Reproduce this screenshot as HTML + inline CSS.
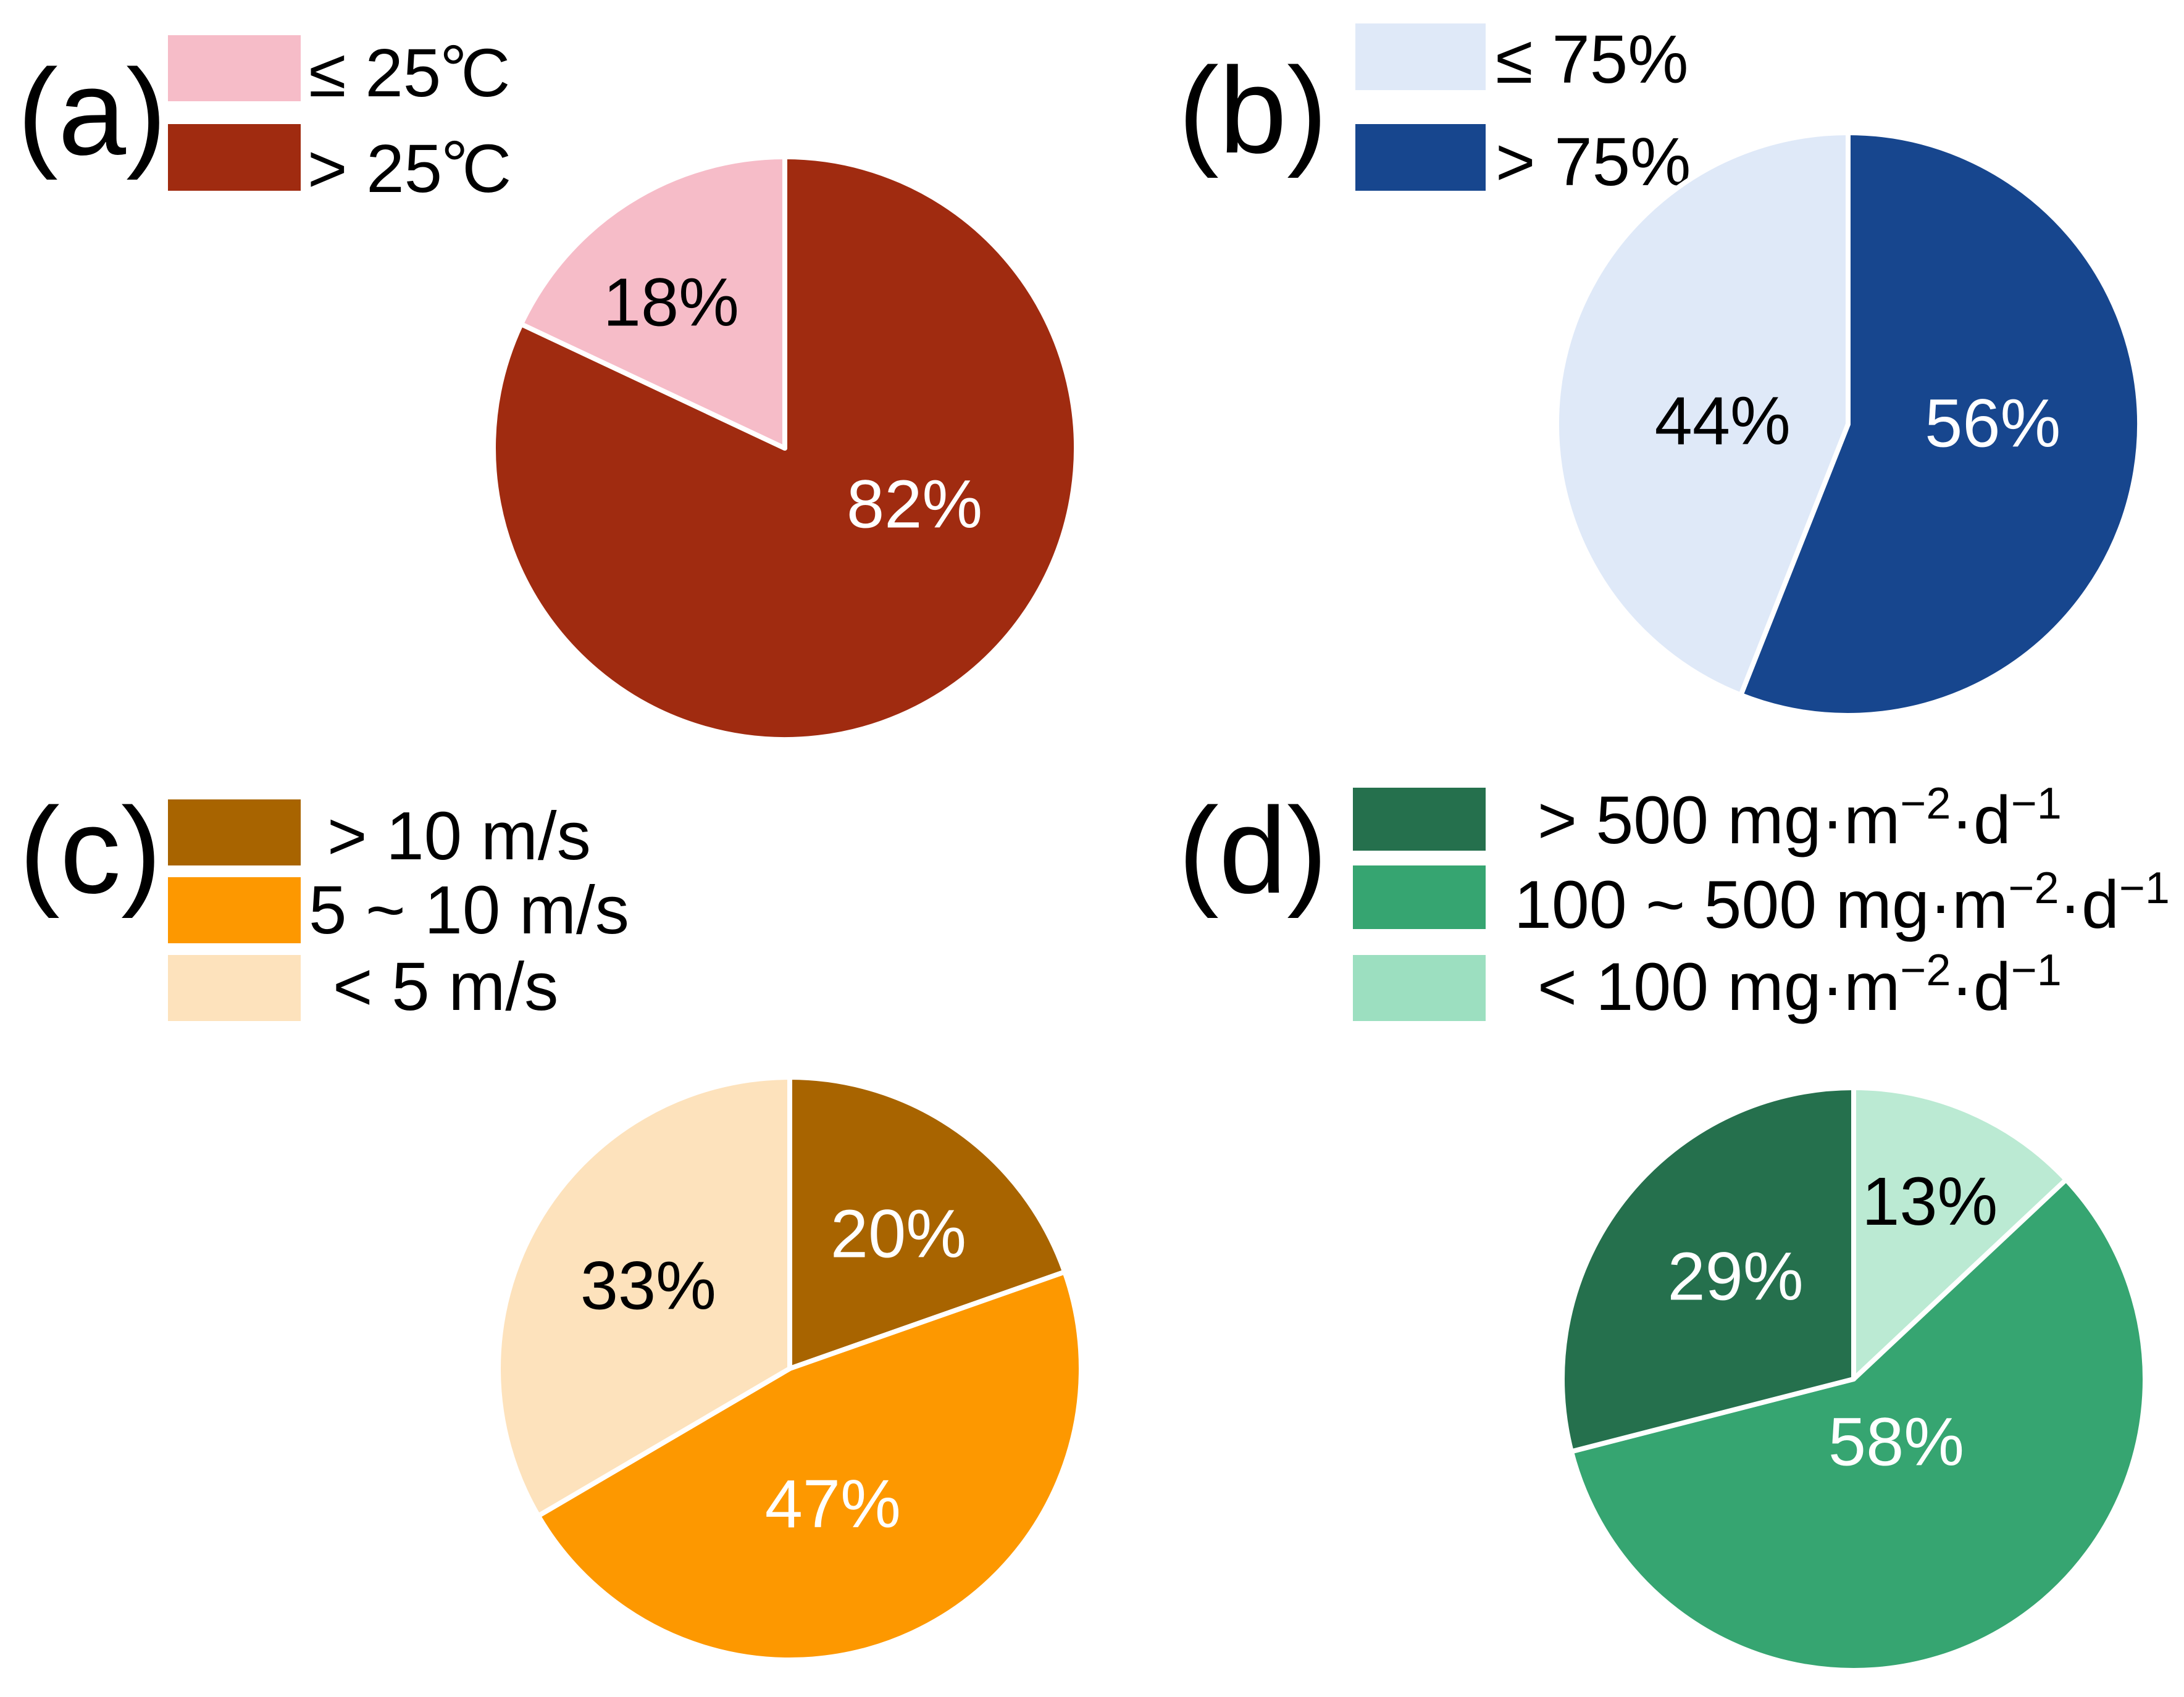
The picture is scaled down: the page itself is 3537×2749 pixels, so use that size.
<!DOCTYPE html>
<html lang="en">
<head>
<meta charset="utf-8">
<title>Pie charts of environmental conditions</title>
<style>
html,body{margin:0;padding:0;background:#fff;}
body{width:3537px;height:2749px;overflow:hidden;}
svg{display:block;}
text{font-family:"Liberation Sans",Arial,sans-serif;fill:#000;}
.panel-tag{font-size:198px;}
.legend-text{font-size:110.5px;}
.legend-text-flux{font-size:109.5px;}
.pct{font-size:110px;text-anchor:middle;}
.sup{font-size:72px;}
</style>
</head>
<body>
<svg id="chart" xmlns="http://www.w3.org/2000/svg" width="3537" height="2749" viewBox="0 0 3537 2749">
  <rect x="0" y="0" width="3537" height="2749" fill="#ffffff"/>

  <g>
    <text class="panel-tag" x="28" y="250">(a)</text>
    <rect x="272" y="57" width="215" height="107" fill="#F6BCC8"/>
    <rect x="272" y="201" width="215" height="108" fill="#A02B10"/>
    <text class="legend-text" x="500" y="156">≤ 25<tspan dx="-2" dy="-6">°</tspan><tspan dx="-10" dy="6">C</tspan></text>
    <text class="legend-text" x="498" y="311">&gt; 25<tspan dx="-2" dy="-6">°</tspan><tspan dx="-10" dy="6">C</tspan></text>
  </g>

  <g>
    <text class="panel-tag" x="1908" y="247">(b)</text>
    <rect x="2195" y="38" width="211" height="108" fill="#DFE9F8"/>
    <rect x="2195" y="201" width="211" height="108" fill="#17468E"/>
    <text class="legend-text" x="2422" y="134">≤ 75%</text>
    <text class="legend-text" x="2422" y="300">&gt; 75%</text>
  </g>

  <g>
    <text class="panel-tag" x="31" y="1446">(c)</text>
    <rect x="272" y="1295" width="215" height="107" fill="#A86400"/>
    <rect x="272" y="1421" width="215" height="107" fill="#FD9800"/>
    <rect x="272" y="1547" width="215" height="107" fill="#FDE2BC"/>
    <text class="legend-text" x="530" y="1392">&gt; 10 m/s</text>
    <text class="legend-text" x="500" y="1512">5 ~ 10 m/s</text>
    <text class="legend-text" x="539" y="1636">&lt; 5 m/s</text>
  </g>

  <g>
    <text class="panel-tag" x="1908" y="1446">(d)</text>
    <rect x="2191" y="1276" width="215" height="102" fill="#25704D"/>
    <rect x="2191" y="1402" width="215" height="103" fill="#36A571"/>
    <rect x="2191" y="1547" width="215" height="107" fill="#9CDFC0"/>
    <text class="legend-text-flux" x="2490" y="1366">&gt; 500 mg·m<tspan class="sup" dy="-40">−2</tspan><tspan dy="40">·d</tspan><tspan class="sup" dy="-40">−1</tspan></text>
    <text class="legend-text-flux" x="2452" y="1503">100 ~ 500 mg·m<tspan class="sup" dy="-40">−2</tspan><tspan dy="40">·d</tspan><tspan class="sup" dy="-40">−1</tspan></text>
    <text class="legend-text-flux" x="2490" y="1636">&lt; 100 mg·m<tspan class="sup" dy="-40">−2</tspan><tspan dy="40">·d</tspan><tspan class="sup" dy="-40">−1</tspan></text>
  </g>
</svg>

<script>
// Chart data: slice shares in percent, clockwise from 12 o'clock
const temperatureCategories = ['high-temperature', 'low-temperature'];
const temperatureValues = [82, 18];
const humidityCategories = ['high-humidity', 'low-humidity'];
const humidityValues = [56, 44];
const windCategories = ['high-wind', 'medium-wind', 'low-wind'];
const windValues = [19.6, 46.9, 33.4];
const fluxCategories = ['low-flux', 'medium-flux', 'high-flux'];
const fluxValues = [13, 58, 29];

// Presentation of each panel (kept apart from the data)
const panels = [
  { id: 'a', categories: temperatureCategories, values: temperatureValues, cx: 1271, cy: 726,
    fills: ['#A02B10', '#F6BCC8'], inks: ['#ffffff', '#000000'], nudges: [[60, -108], [-34, 38]] },
  { id: 'b', categories: humidityCategories, values: humidityValues, cx: 2993, cy: 687,
    fills: ['#17468E', '#DFE9F8'], inks: ['#ffffff', '#000000'], nudges: [[-41, -16], [72, 85]] },
  { id: 'c', categories: windCategories, values: windValues, cx: 1279, cy: 2217,
    fills: ['#A86400', '#FD9800', '#FDE2BC'], inks: ['#ffffff', '#ffffff', '#000000'], nudges: [[14, 48], [-48, 3], [14, 43]] },
  { id: 'd', categories: fluxCategories, values: fluxValues, cx: 3002, cy: 2234,
    fills: ['#BBEAD3', '#36A571', '#25704D'], inks: ['#000000', '#ffffff', '#ffffff'], nudges: [[12, 7], [-66, -106], [30, 43]] }
];

const SVG_NS = 'http://www.w3.org/2000/svg';
const chart = document.getElementById('chart');
const visibleRadius = 468;
const outlineWidth = 8;
const sliceRadius = visibleRadius + outlineWidth / 2;
const labelRadius = 467 * 0.6;

// Angle axis: cumulative percent to radians clockwise from the top
function angleOf(cumulative, total) {
  return (cumulative / total) * Math.PI * 2;
}

function polar(cx, cy, r, angle) {
  return [cx + r * Math.sin(angle), cy - r * Math.cos(angle)];
}

function slicePath(cx, cy, r, a0, a1) {
  const p0 = polar(cx, cy, r, a0);
  const p1 = polar(cx, cy, r, a1);
  const large = a1 - a0 > Math.PI ? 1 : 0;
  return 'M' + cx + ' ' + cy + 'L' + p0[0] + ' ' + p0[1] + 'A' + r + ' ' + r + ' 0 ' + large + ' 1 ' + p1[0] + ' ' + p1[1] + 'Z';
}

panels.forEach(function (panel) {
  const group = document.createElementNS(SVG_NS, 'g');
  
  
  chart.appendChild(group);

  const total = panel.values.reduce(function (s, v) { return s + v; }, 0);
  let running = 0;
  const labels = [];

  panel.values.forEach(function (value, i) {
    const a0 = angleOf(running, total);
    running += value;
    const a1 = angleOf(running, total);

    const slice = document.createElementNS(SVG_NS, 'path');
    
    
    slice.setAttribute('d', slicePath(panel.cx, panel.cy, sliceRadius, a0, a1));
    slice.setAttribute('fill', panel.fills[i]);
    slice.setAttribute('stroke', '#ffffff');
    slice.setAttribute('stroke-width', outlineWidth);
    slice.setAttribute('stroke-linejoin', 'round');
    group.appendChild(slice);

    const anchor = polar(panel.cx, panel.cy, labelRadius, (a0 + a1) / 2);
    const label = document.createElementNS(SVG_NS, 'text');
    
    
    label.setAttribute('class', 'pct');
    label.setAttribute('x', anchor[0] + panel.nudges[i][0]);
    label.setAttribute('y', anchor[1] + panel.nudges[i][1]);
    label.style.fill = panel.inks[i];
    label.textContent = Math.round(value) + '%';
    labels.push(label);
  });

  labels.forEach(function (label) { group.appendChild(label); });
});
</script>
</body>
</html>
